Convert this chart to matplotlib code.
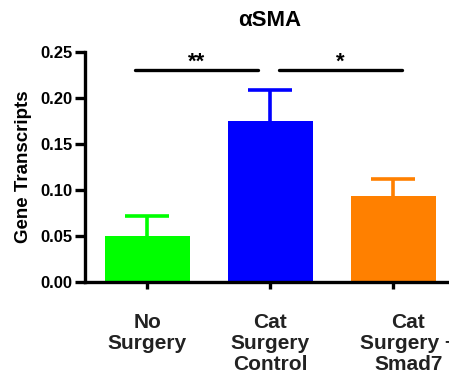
import numpy as np
import matplotlib.pyplot as plt

plt.rcParams['font.family'] = ['Liberation Sans', 'DejaVu Sans']
plt.rcParams['font.weight'] = 'bold'

# group means and SEM
groups = ['No\nSurgery', 'Cat\nSurgery\nControl', 'Cat\nSurgery +\nSmad7']
means = [0.050, 0.175, 0.093]
sem = [0.022, 0.034, 0.019]
colors = ['#00ff00', '#0000ff', '#ff8000']

# significance brackets: (left, right, height, label)
brackets = [(-0.1, 0.9, 0.230, '**'), (1.07, 2.07, 0.230, '*')]

fig = plt.figure(figsize=(4.49, 3.78), dpi=100)
ax = fig.add_axes([85 / 449, 1 - 282 / 378, 370 / 449, 230 / 378])

x = np.arange(len(groups))
ax.bar(x, means, width=0.69, color=colors, zorder=2)
for xi, m, e, c in zip(x, means, sem, colors):
    _, caps, _ = ax.errorbar(xi, m, yerr=[[0], [e]], color=c, elinewidth=2.6,
                             capsize=15.5, capthick=2.6, zorder=1)
    caps[0].set_visible(False)

for x0, x1, h, lab in brackets:
    ax.plot([x0, x1], [h, h], color='black', lw=2.4, solid_capstyle='round',
            clip_on=False)
    ax.text((x0 + x1) / 2, h + 0.0025, lab, ha='center', va='baseline',
            fontsize=16, fontweight='bold')

ax.set_xlim(-0.505, 2.5)
ax.set_ylim(0, 0.25)
ax.set_yticks([0, 0.05, 0.10, 0.15, 0.20, 0.25])
ax.set_yticklabels(['0.00', '0.05', '0.10', '0.15', '0.20', '0.25'])
ax.set_xticks(x, labels=[''] * len(groups))

# category labels; the last one sits a little right of its tick
shifts = [0, 0, 10.8]
for xi, g, dx in zip(x, groups, shifts):
    ax.annotate(g, xy=(xi, 0), xycoords=('data', 'axes fraction'),
                xytext=(dx, -22), textcoords='offset points',
                ha='center', va='top', fontsize=15, fontweight='bold',
                color='#222222', linespacing=1.15, annotation_clip=False)

for side in ['top', 'right']:
    ax.spines[side].set_visible(False)
for side in ['left', 'bottom']:
    ax.spines[side].set_linewidth(2.4)
ax.tick_params(axis='y', width=2.4, length=7, labelsize=12, pad=2)
ax.tick_params(axis='x', width=2.4, length=5)

ax.set_ylabel('Gene Transcripts', fontsize=13.5, fontweight='bold', labelpad=6)
ax.set_title('αSMA', fontsize=16, fontweight='bold', pad=19)

fig.savefig('out.png', dpi=100)
